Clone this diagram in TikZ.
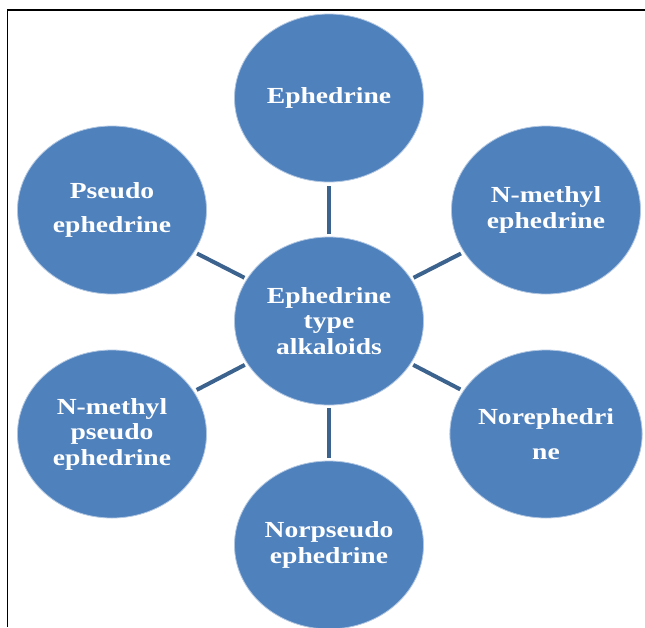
\documentclass[tikz,border=0pt]{standalone}
\usepackage{fontspec}
\setmainfont[FakeStretch=1.2]{Liberation Serif}
\usetikzlibrary{shapes.geometric}
\definecolor{cblue}{RGB}{79,129,189}
\definecolor{lblue}{RGB}{60,98,142}
\tikzset{
  bub/.style={ellipse, fill=cblue, draw=white!55!cblue, line width=0.8pt,
    minimum width=189pt, minimum height=168pt, inner sep=0pt, outer sep=0pt,
    text=white, align=center, font=\fontsize{23}{25.5}\selectfont\bfseries},
  wide/.style={font=\fontsize{23}{34.5}\selectfont\bfseries},
  link/.style={draw=lblue, line width=4pt, shorten >=3.5pt, shorten <=3pt},
  frame/.style={draw=black, line width=1.2pt}
}
\begin{document}
\begin{tikzpicture}[x=1pt,y=-1pt]
\useasboundingbox (0,0) rectangle (645,627);
\clip (0,0) rectangle (645,627);
\fill[white] (0,0) rectangle (645,627);
\coordinate (fa) at (645,10);
\coordinate (fb) at (7.5,10);
\coordinate (fc) at (7.5,627);
\draw[frame] (fa) -- (fb) -- (fc);
\node[bub] (c) at (329,321) {Ephedrine\\type\\alkaloids};
\node[bub] (e) at (329,98) {Ephedrine};
\node[bub] (nme) at (546,210) {N-methyl\\ephedrine};
\node[bub,wide] (nor) at (546,434) {Norephedri\\ne};
\node[bub] (nps) at (329,545) {Norpseudo\\ephedrine};
\node[bub] (nmp) at (112,434) {N-methyl\\pseudo\\ephedrine};
\node[bub,wide] (pse) at (112,210) {Pseudo\\ephedrine};
\draw[link] (c) -- (e);
\draw[link] (c) -- (nme);
\draw[link] (c) -- (nor);
\draw[link] (c) -- (nps);
\draw[link] (c) -- (nmp);
\draw[link] (c) -- (pse);
\end{tikzpicture}
\end{document}
